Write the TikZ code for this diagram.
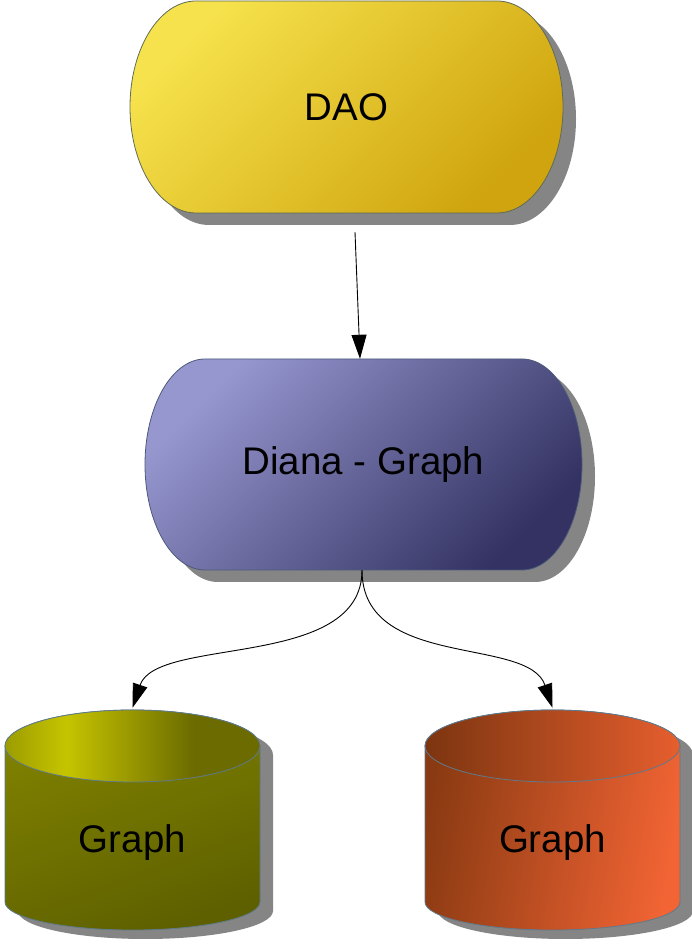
\documentclass[tikz,border=0pt]{standalone}
\usepackage{fontspec}
\setmainfont{Liberation Sans}
\usetikzlibrary{shadows,arrows.meta}
\definecolor{shadowgray}{HTML}{858585}
\definecolor{daolight}{HTML}{F6E24C}
\definecolor{daodark}{HTML}{CFA40E}
\definecolor{daoborder}{HTML}{5F6B56}
\definecolor{dianalight}{HTML}{9797D0}
\definecolor{dianadark}{HTML}{333262}
\definecolor{dianaborder}{HTML}{4C5A7A}
\definecolor{cylborder}{HTML}{5F7A8C}
\definecolor{olvA}{HTML}{808200}
\definecolor{olvB}{HTML}{5E6000}
\definecolor{olvC}{HTML}{C6C400}
\definecolor{olvD}{HTML}{6B6B00}
\definecolor{olvE}{HTML}{9C9C00}
\definecolor{orgA}{HTML}{8A3A12}
\definecolor{orgB}{HTML}{F26434}
\definecolor{orgC}{HTML}{7C3510}
\definecolor{orgD}{HTML}{E65E2E}
\pgfdeclarehorizontalshading{olvtopshade}{100bp}{color(0bp)=(olvE); color(25bp)=(olvE); color(37bp)=(olvC); color(62bp)=(olvD); color(75bp)=(olvD); color(100bp)=(olvD)}
% stadium: centre x, centre y, half width, half height, end radius, options
\newcommand{\stadiumshape}[6]{%
\begin{scope}[shift={(#1,#2)}]
 \shade[#6] ({-#3+#5},#4) -- ({#3-#5},#4) arc[start angle=90,end angle=-90,x radius=#5,y radius=#4]
   -- ({-#3+#5},-#4) arc[start angle=270,end angle=90,x radius=#5,y radius=#4] -- cycle;
\end{scope}}
\newcommand{\dbcyl}[3]{%
\begin{scope}[shift={(#1,0)}]
 \fill[shadowgray] (-114.5,195) -- (-114.5,39) arc[start angle=180,end angle=360,x radius=127.5,y radius=28] -- (140.5,195) arc[start angle=0,end angle=180,x radius=127.5,y radius=36] -- cycle;
 \shade[cylline,#2] (-127.5,204) -- (-127.5,48) arc[start angle=180,end angle=360,x radius=127.5,y radius=28] -- (127.5,204) arc[start angle=0,end angle=180,x radius=127.5,y radius=36] -- cycle;
 \shade[cylline,#3] (0,204) ellipse[x radius=127.5,y radius=36];
\end{scope}}
\begin{document}
\begin{tikzpicture}[x=1pt,y=1pt,
  termshape/.style={line width=0.8pt,
    drop shadow={shadow xshift=13pt, shadow yshift=-12pt, fill=shadowgray, opacity=1}},
  termtext/.style={rectangle, inner sep=0pt, font=\fontsize{38.5}{40}\selectfont},
  conn/.style={draw=black, line width=0.9pt, -{Triangle[length=24pt,width=15pt]}},
  cyltext/.style={font=\fontsize{38.5}{40}\selectfont, minimum width=255pt, minimum height=266pt, inner sep=0pt},
  cylline/.style={draw=cylborder, line width=0.8pt}]
\useasboundingbox (0,0) rectangle (691,950);

\stadiumshape{346.5}{843}{216.5}{106}{66}{termshape, draw=daoborder, top color=daolight, bottom color=daodark, shading angle=45}
\node[termtext, minimum width=433pt, minimum height=212pt] (dao) at (346.5,843) {DAO};

\stadiumshape{363.5}{485.5}{218.5}{105.5}{60}{termshape, draw=dianaborder, top color=dianalight, bottom color=dianadark, shading angle=45}
\node[termtext, minimum width=437pt, minimum height=211pt] (diana) at (363.5,485.5) {Diana - Graph};

\dbcyl{132.5}{top color=olvA, bottom color=olvB, shading angle=20}{shading=olvtopshade}
\dbcyl{552.5}{left color=orgA, right color=orgB, shading angle=80}{left color=orgC, right color=orgD}

\node[cyltext] (g1) at (132.5,107) {Graph};
\node[cyltext] (g2) at (552.5,107) {Graph};

\draw[conn] ([xshift=8.5pt,yshift=-19pt]dao.south) -- ([xshift=-3.5pt]diana.north);
\draw[conn] ([xshift=-1.5pt]diana.south) .. controls +(0,-100) and +(24,72) .. ([yshift=2pt]g1.north);
\draw[conn] ([xshift=-1.5pt]diana.south) .. controls +(0,-100) and +(-24,72) .. ([yshift=2pt]g2.north);
\end{tikzpicture}
\end{document}
